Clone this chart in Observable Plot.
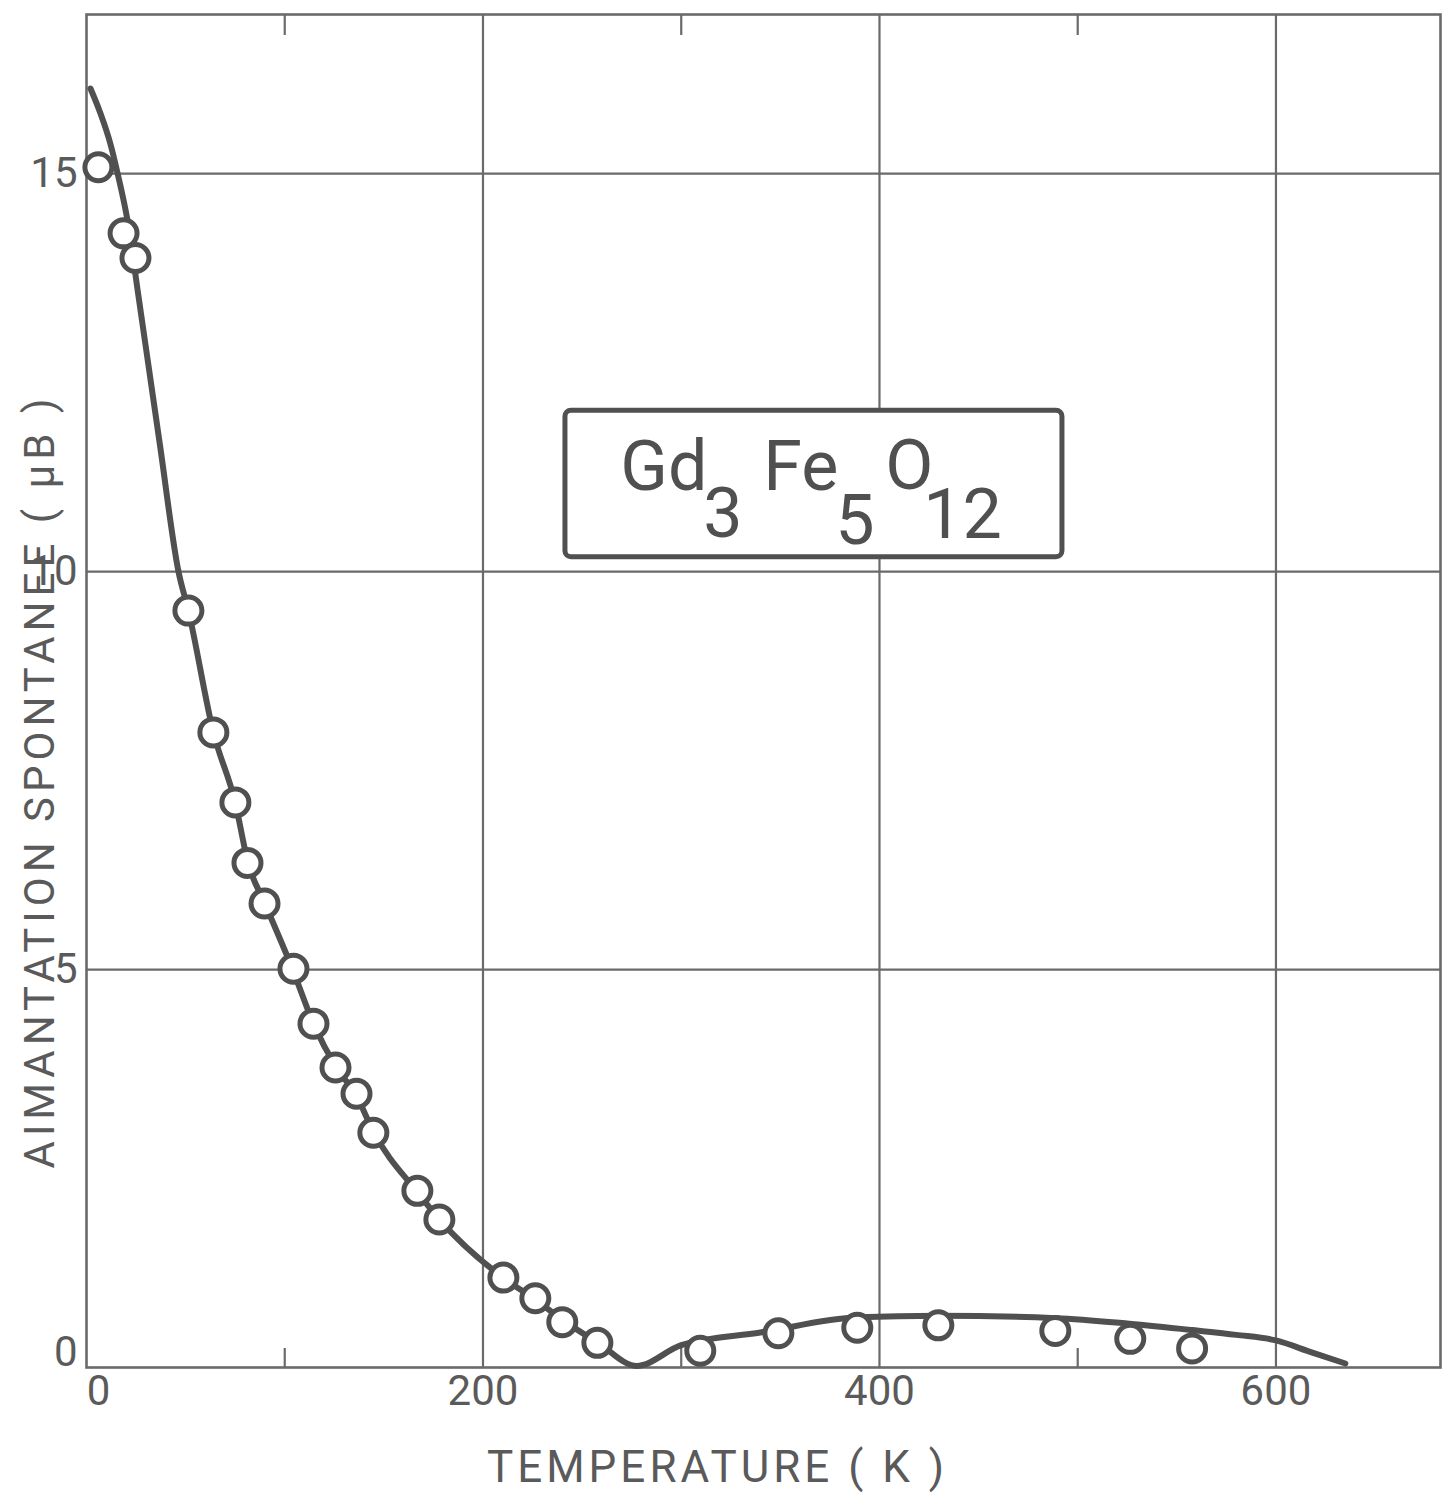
<!DOCTYPE html>
<html><head><meta charset="utf-8">
<script src="https://cdn.jsdelivr.net/npm/d3@7"></script>
<script src="https://cdn.jsdelivr.net/npm/@observablehq/plot@0.6"></script>
<style>body{margin:0;background:#fff} svg{display:block}</style>
</head><body><div id="chart"></div>
<script>
// Measured points
const pointT = [6, 18.7, 24.7, 51.4, 64, 75.1, 81.2, 89.8, 104.4, 114.5, 125.6, 136.2, 144.7, 166.9, 178, 210.3, 226.4, 240, 257.7, 309.6, 349, 388.8, 429.7, 488.7, 526.5, 557.7];
const pointM = [15.08, 14.25, 13.94, 9.51, 7.98, 7.10, 6.34, 5.83, 5.01, 4.32, 3.77, 3.44, 2.95, 2.22, 1.86, 1.13, 0.87, 0.57, 0.31, 0.21, 0.43, 0.50, 0.53, 0.46, 0.36, 0.24];
// Drawn curve
const curveT = [2, 7, 12, 16, 20.7, 26, 37, 46.4, 51.4, 64, 75, 81.5, 90, 104, 114.5, 126, 136, 145, 167, 178, 210, 226, 240, 258, 277.5, 300, 340, 389, 430, 489, 526, 558, 580, 600, 618, 635];
const curveM = [16.07, 15.76, 15.38, 14.97, 14.41, 13.5, 11.6, 10.0, 9.51, 7.98, 7.1, 6.34, 5.83, 5.0, 4.32, 3.77, 3.42, 2.95, 2.2, 1.86, 1.13, 0.86, 0.6, 0.31, 0.02, 0.28, 0.44, 0.63, 0.65, 0.62, 0.55, 0.47, 0.41, 0.34, 0.19, 0.05];
// Axes
const xDomain = [0, 683];
const yDomain = [0, 17];
const xTicks = [0, 200, 400, 600];
const xMinorTicks = [100, 300, 500];
const yTicks = [0, 5, 10, 15];
const xTitle = "TEMPERATURE ( K )";
const yTitle = "AIMANTATION SPONTANEE ( μB )";
// Formula label box
const formulaParts = ["Gd", "3", "Fe", "5", "O", "12"];
const formulaT = [269.3, 311.1, 341.4, 377.7, 402.9, 422.1];
const formulaM = [11.02, 10.43, 11.02, 10.35, 11.04, 10.42];
const boxT = [241.6, 492.3];
const boxM = [10.18, 12.02];

const ink = "#505050";
const grid = "#6a6a6a";
const textInk = "#5a5a5a";

const points = pointT.map((t, i) => ({t, m: pointM[i]}));
const curve = curveT.map((t, i) => ({t, m: curveM[i]}));
const formula = formulaParts.map((s, i) => ({s, t: formulaT[i], m: formulaM[i]}));
const fmt = d3.format("d");

const chart = Plot.plot({
  width: 1455,
  height: 1505,
  marginTop: 14,
  marginLeft: 86,
  marginRight: 15,
  marginBottom: 138,
  style: {fontFamily: "Roboto, sans-serif", background: "#fff"},
  x: {domain: xDomain, label: null},
  y: {domain: yDomain, label: null},
  marks: [
    Plot.gridX(xTicks.filter(d => d !== 0), {stroke: grid, strokeOpacity: 1, strokeWidth: 2.2}),
    Plot.gridY(yTicks.filter(d => d !== 0), {stroke: grid, strokeOpacity: 1, strokeWidth: 2.2}),
    Plot.frame({stroke: grid, strokeWidth: 2.6}),
    Plot.axisX(xMinorTicks, {anchor: "bottom", tickSize: -19, tickFormat: () => "", label: null, stroke: grid, strokeWidth: 2.2}),
    Plot.axisX(xMinorTicks, {anchor: "top", tickSize: -20, tickFormat: () => "", label: null, stroke: grid, strokeWidth: 2.2}),
    Plot.axisX(xTicks.filter(d => d !== 0), {anchor: "bottom", tickSize: 0, tickPadding: 8, tickFormat: fmt, fontSize: 42, fill: textInk, label: null}),
    Plot.axisX([0], {anchor: "bottom", tickSize: 0, tickPadding: 8, dx: 12, tickFormat: fmt, fontSize: 42, fill: textInk, label: null}),
    Plot.axisY(yTicks.filter(d => d !== 0), {anchor: "left", tickSize: 0, tickPadding: 9, tickFormat: fmt, fontSize: 42, fill: textInk, label: null}),
    Plot.axisY([0], {anchor: "left", tickSize: 0, tickPadding: 9, dy: -15, tickFormat: fmt, fontSize: 42, fill: textInk, label: null}),
    Plot.rect([0], {x1: () => boxT[0], x2: () => boxT[1], y1: () => boxM[0], y2: () => boxM[1], fill: "#fff", stroke: ink, strokeWidth: 5, rx: 6}),
    Plot.text(formula, {x: "t", y: "m", text: "s", textAnchor: "start", lineAnchor: "bottom", fontSize: 70, fill: ink}),
    Plot.line(curve, {x: "t", y: "m", curve: "monotone-x", stroke: ink, strokeWidth: 6}),
    Plot.dot(points, {x: "t", y: "m", r: 13.5, stroke: ink, strokeWidth: 5, fill: "#fff"}),
    Plot.text([xTitle], {text: d => d, frameAnchor: "bottom", textAnchor: "middle", lineAnchor: "middle", dx: -46, dy: 100, fontSize: 44, fill: textInk}),
    Plot.text([yTitle], {text: d => d, frameAnchor: "left", textAnchor: "middle", lineAnchor: "middle", rotate: -90, dx: -46, dy: 90, fontSize: 42, fill: textInk})
  ]
});
d3.select(chart).selectAll("text").filter(function() { return this.textContent === xTitle; }).attr("letter-spacing", 4);
d3.select(chart).selectAll("text").filter(function() { return this.textContent === yTitle; }).attr("letter-spacing", 5);
document.getElementById("chart").appendChild(chart);
</script>
</body></html>
